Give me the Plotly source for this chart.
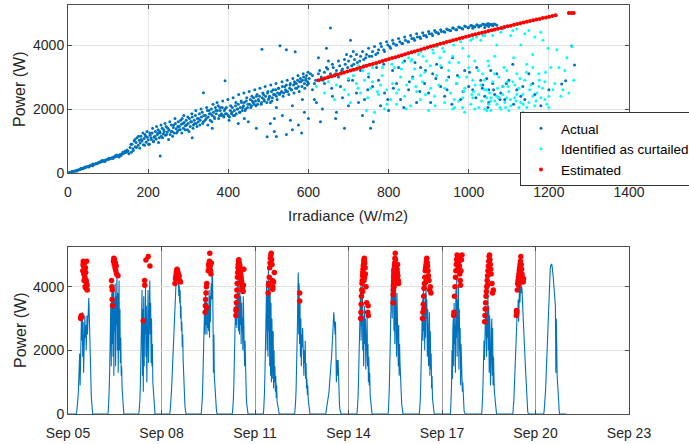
import plotly.graph_objects as go
import pandas as pd

# ---------------- top panel: power vs irradiance ----------------
actual_irr = [
    1, 3, 5, 7, 9, 11, 13, 15, 18, 20,
    23, 25, 28, 30, 33, 35, 38, 40, 43, 45,
    48, 50, 53, 55, 58, 60, 63, 65, 68, 70,
    73, 75, 78, 80, 83, 85, 88, 90, 93, 95,
    98, 100, 103, 105, 108, 110, 113, 115, 118, 120,
    123, 125, 128, 130, 133, 135, 138, 140, 143, 145,
    148, 150,
    10, 22, 32, 42, 52, 62, 72, 82, 92, 102,
    112, 122, 132, 142, 62, 85, 118, 127, 137, 147,
    155, 158, 160, 162, 165, 168, 170, 172, 175, 178,
    180, 182, 185, 188, 190, 192, 195, 198, 200, 203,
    205, 208, 210, 213, 215, 218, 220, 223, 225, 228,
    230, 233, 235, 238, 240, 243, 245, 248, 230, 252,
    255, 258, 260, 263, 265, 268, 270, 273, 275, 278,
    280, 283, 285, 288, 290, 293, 295, 298, 300, 303,
    305, 308, 310, 313, 315, 318, 320, 323, 325, 328,
    330, 333, 335, 338, 338, 343, 345, 348, 350, 353,
    355, 358, 360, 363, 365, 368, 370, 373, 375, 378,
    380, 383, 385, 388, 390, 393, 395, 392, 400, 403,
    405, 408, 410, 413, 415, 418, 420, 423, 425, 428,
    430, 433, 435, 438, 440, 443, 445, 448, 450, 453,
    455, 458, 460, 463, 465, 468, 470, 473, 475, 478,
    484, 483, 485, 488, 490, 493, 497, 498, 500, 503,
    505, 508, 510, 513, 515, 518, 520, 523, 525, 528,
    529, 533, 535, 538, 520, 543, 545, 548, 545, 553,
    555, 558, 560, 563, 565, 568, 570, 573, 575, 578,
    580, 583, 585, 588, 590, 593, 595, 598, 600, 567,
    152, 157, 163, 167, 171, 176, 179, 183, 187, 191,
    194, 197, 201, 204, 207, 211, 214, 217, 221, 224,
    226, 229, 232, 236, 239, 242, 246, 249, 251, 254,
    257, 261, 264, 267, 271, 274, 277, 281, 284, 287,
    289, 292, 296, 299, 302, 306, 309, 312, 316, 319,
    322, 326, 329, 332, 336, 339, 342, 346, 349, 352,
    356, 359, 362, 366, 369, 372, 376, 379, 382, 386,
    389, 392, 396, 399, 402, 406, 409, 412, 416, 419,
    422, 426, 429, 432, 436, 439, 442, 446, 449, 452,
    456, 459, 462, 466, 469, 472, 476, 479, 482, 486,
    489, 492, 496, 499, 502, 506, 509, 512, 516, 519,
    522, 526, 530, 534, 537, 541, 544, 547, 551, 554,
    557, 561, 564, 567, 571, 574, 577, 581, 584, 587,
    591, 594, 597, 599, 505, 515, 535, 555, 575, 590,
    470, 440, 425, 360, 310, 520, 560, 585, 600, 545,
    602, 610, 618, 625, 632, 640, 648, 655, 662, 670,
    678, 685, 692, 700, 708, 715, 722, 730, 738, 745,
    752, 760, 768, 775, 782, 790, 798, 805, 812, 820,
    828, 835, 842, 850, 858, 865, 872, 880, 888, 895,
    902, 910, 918, 925, 932, 940, 948, 955, 962, 970,
    978, 985, 992, 1000, 1008, 1015, 1022, 1030, 1038, 1045,
    1052, 1058, 1062, 1066, 1070, 1040, 1050, 1060, 1010, 1025,
    605, 615, 628, 636, 645, 652, 660, 668, 675, 683,
    690, 698, 706, 713, 720, 728, 735, 743, 750, 758,
    765, 773, 780, 788, 795, 803, 810, 818, 825, 833,
    840, 848, 855, 863, 870, 878, 885, 893, 900, 908,
    915, 923, 930, 938, 945, 953, 960, 968, 975, 983,
    990, 998, 1005, 1012, 1020, 1028, 1035, 1042, 1048, 1055,
    610, 620, 630, 640, 650, 655, 660, 670, 675, 680,
    690, 695, 700, 705, 710, 720, 730, 735, 740, 750,
    755, 760, 770, 780, 790, 800, 810, 820, 830, 840,
    850, 860, 870, 880, 890, 900, 910, 920, 930, 940,
    950, 960, 970, 980, 990, 1000, 1010, 1020, 1030, 1040,
    1050, 1060, 1070, 1080, 1090, 1100, 1110, 1120, 1130, 1140,
    1150, 1160, 1180, 1200, 1232, 1242, 1257, 1264, 1050, 1035,
    1065, 1045, 1055, 1075, 1085,
    615, 625, 635, 645, 658, 668, 685, 700, 712, 725,
    738, 748, 762, 775, 788, 798, 812, 825, 838, 852,
    866, 878, 892, 905, 918, 932, 946, 958, 972, 986,
    1002, 1018, 1034, 1048, 1062, 1078, 1094, 1112, 1135, 1165,
]
actual_pow = [
    3, 10, 18, 25, 32, 40, 48, 55, 66, 74,
    86, 95, 105, 118, 128, 140, 150, 160, 172, 185,
    195, 205, 215, 230, 240, 250, 262, 275, 282, 300,
    305, 320, 330, 345, 350, 365, 372, 390, 395, 410,
    420, 430, 440, 455, 460, 480, 485, 500, 505, 525,
    530, 550, 555, 575, 580, 600, 610, 630, 640, 660,
    670, 690,
    50, 60, 140, 190, 190, 280, 290, 370, 360, 460,
    450, 560, 540, 680, 230, 390, 540, 500, 650, 720,
    800, 650, 900, 760, 1000, 820, 950, 1100, 870, 1020,
    940, 1150, 1000, 880, 1080, 1200, 960, 1120, 1030, 900,
    1180, 1050, 1250, 980, 1120, 1300, 1060, 1200, 1350, 1100,
    1250, 1150, 1400, 1230, 1300, 1180, 1450, 1280, 530, 1350,
    1200, 1500, 1300, 1420, 1250, 1550, 1380, 1300, 1600, 1450,
    1350, 1520, 1700, 1400, 1580, 1480, 1650, 1350, 1550, 1700,
    1450, 1600, 1750, 1500, 1650, 1800, 1550, 1700, 1600, 1850,
    1650, 1750, 1900, 1600, 2510, 1800, 1700, 1950, 1750, 1850,
    1650, 2000, 1800, 1900, 1750, 2050, 1850, 1950, 2100, 1800,
    1950, 1850, 2050, 1800, 1950, 1850, 2050, 2885, 1800, 1750,
    1950, 1850, 2050, 1800, 1950, 2100, 1850, 2000, 2150, 1900,
    2050, 2200, 1950, 2100, 2200, 2000, 2250, 2050, 1600, 2150,
    2300, 2100, 2250, 2350, 2150, 2250, 2400, 2150, 2300, 2400,
    3870, 2200, 2350, 2450, 2250, 2400, 1135, 2500, 2300, 2400,
    2200, 2550, 2350, 2450, 1700, 2600, 2400, 2500, 2650, 2450,
    3980, 2550, 2700, 2500, 1140, 2600, 2750, 2550, 3850, 2650,
    2800, 2600, 1350, 2750, 2850, 2650, 2800, 2900, 2700, 2850,
    2950, 1250, 2900, 3000, 2800, 2900, 3050, 2850, 2800, 3790,
    600, 900, 700, 1050, 800, 1150, 780, 1050, 1250, 870,
    1150, 1300, 900, 1250, 1100, 1400, 1000, 1150, 1450, 1250,
    950, 1300, 1500, 1100, 1350, 1550, 1200, 1400, 1050, 1600,
    1300, 1150, 1500, 1700, 1250, 1450, 1350, 1650, 1250, 1550,
    1800, 1350, 1500, 1750, 1300, 1600, 1850, 1400, 1550, 1950,
    1450, 1700, 1500, 2000, 1550, 1800, 1650, 2050, 1500, 1950,
    1850, 1600, 2150, 1700, 1950, 2200, 1700, 2050, 1800, 2250,
    1750, 2000, 1850, 2300, 1650, 2100, 1900, 2350, 1800, 2200,
    2000, 2450, 1900, 2250, 2050, 2500, 1950, 2350, 2150, 2550,
    2050, 2400, 2200, 2600, 2100, 2450, 2250, 2650, 2150, 2500,
    2300, 2700, 2200, 2550, 2350, 2750, 2250, 2600, 2450, 2800,
    2300, 2650, 2500, 2850, 2400, 2700, 2550, 2900, 2450, 2750,
    2600, 2950, 2500, 2800, 2650, 3050, 2550, 2850, 2700, 3100,
    2650, 2950, 2750, 3150, 1550, 1300, 1800, 1650, 1500, 1900,
    1400, 1700, 1550, 1400, 1100, 2050, 2100, 2300, 1700, 1200,
    2950, 3050, 2900, 3100, 3000, 3150, 3250, 3100, 3300, 3200,
    3350, 3250, 3400, 3500, 3350, 3550, 3450, 3650, 3550, 3700,
    3650, 3800, 3700, 3850, 3950, 3800, 4000, 3900, 4050, 4000,
    4100, 4050, 4150, 4100, 4200, 4150, 4250, 4200, 4300, 4250,
    4350, 4300, 4400, 4350, 4420, 4400, 4480, 4450, 4520, 4480,
    4550, 4500, 4580, 4550, 4600, 4570, 4620, 4600, 4640, 4620,
    4650, 4630, 4660, 4650, 4620, 4550, 4580, 4600, 4520, 4560,
    3100, 2800, 3200, 2900, 3300, 3000, 3400, 3100, 3500, 3200,
    3550, 3300, 3650, 3400, 3700, 3500, 3800, 3600, 3900, 3650,
    3950, 3750, 4050, 3850, 4100, 3950, 4150, 4000, 4200, 4050,
    4250, 4100, 4300, 4200, 4350, 4250, 4380, 4300, 4420, 4350,
    4450, 4380, 4480, 4420, 4500, 4450, 4540, 4480, 4560, 4520,
    4590, 4540, 4610, 4580, 4630, 4600, 4660, 4630, 4670, 4640,
    2600, 2200, 1600, 2800, 3500, 4530, 2400, 1900, 3000, 2700,
    1400, 3700, 2100, 4150, 2900, 2500, 3200, 1800, 2300, 3000,
    1400, 2700, 3300, 2100, 2500, 1950, 3200, 2800, 2300, 3500,
    2600, 3000, 2200, 3300, 2800, 2500, 3100, 3400, 2700, 2400,
    3000, 3600, 2800, 2300, 3200, 2700, 2600, 3300, 2900, 2400,
    2200, 2800, 3100, 2500, 2300, 2900, 3400, 2600, 2400, 2300,
    3100, 2800, 2100, 2600, 2780, 2885, 3970, 3375, 2600, 2750,
    2450, 2950, 3200, 2350, 2700,
    2300, 3600, 2000, 3900, 2650, 1700, 2350, 2900, 3800, 2200,
    3350, 2600, 1600, 2900, 3400, 2300, 2650, 3300, 2050, 2850,
    3450, 2550, 3200, 2200, 2950, 3300, 2600, 2150, 3050, 2550,
    3150, 2350, 2650, 2050, 2600, 2300, 2800, 2150, 2700, 2450,
]

curtailed_irr = [
    620, 630, 640, 650, 660, 665, 670, 680, 690, 700,
    705, 710, 720, 725, 730, 740, 745, 750, 755, 760,
    765, 770, 775, 780, 785, 790, 795, 800, 805, 810,
    815, 820, 825, 830, 835, 840, 845, 850, 855, 860,
    865, 870, 875, 880, 885, 890, 895, 900, 905, 910,
    915, 920, 925, 930, 935, 940, 945, 950, 955, 960,
    965, 970, 975, 980, 985, 990, 995, 1000, 1005, 1010,
    1015, 1020, 1025, 1030, 1035, 1040, 1045, 1050, 1055, 1060,
    1065, 1070, 1075, 1080, 1085, 1090, 1095, 1100, 1105, 1110,
    1115, 1120, 1125, 1130, 1135, 1140, 1145, 1150, 1155, 1160,
    1170, 1175, 1180, 1190, 1200, 1205, 1210, 1220, 1230, 1240,
    1250, 1258, 1262, 960, 975, 990, 1010, 1025, 1040, 1055,
    1070, 1085, 1100, 1115, 1130, 1145, 1160, 1175, 1190, 1045,
    1065, 1095, 1125, 1012, 1052, 1078, 1098, 1118, 1010, 1040,
    1060, 1090, 1120, 1150, 1180, 1030, 1070, 950, 920, 880,
    700, 712, 724, 736, 748, 760, 772, 784, 796, 808,
    820, 832, 844, 856, 868, 880, 892, 904, 916, 928,
    940, 952, 964, 976, 988, 1000, 1008, 1016, 1024, 1032,
    1040, 1048, 1056, 1064, 1072, 1080, 1088, 1096, 1104, 1112,
    1120, 1128, 1136, 1144, 1152, 1160, 1168, 1176, 1184, 1192,
    1200, 1215, 1225, 1235, 1245, 1198, 1185, 1165, 1140, 1110,
    1085, 1060, 1035, 1005, 985, 962, 938, 912, 886, 858,
    985, 1015, 1045, 1075, 1105, 1135, 1165, 1195, 1050, 1092,
]
curtailed_pow = [
    2700, 2900, 2500, 2850, 3000, 2300, 2750, 3100, 2600, 2950,
    2200, 3250, 2800, 3350, 2500, 2900, 1950, 3100, 2650, 2850,
    1900, 3400, 2450, 2750, 3300, 2000, 2600, 3550, 2300, 2800,
    3300, 2150, 2600, 3000, 3450, 2400, 2750, 3600, 2100, 2950,
    3250, 2550, 3700, 2300, 2850, 3150, 3500, 1950, 2650, 3850,
    2400, 3050, 2750, 3350, 3900, 2200, 2900, 3200, 2500, 3650,
    2050, 2800, 3450, 4100, 2350, 2650, 3000, 3300, 2150, 2900,
    3500, 4250, 2450, 2750, 3100, 2000, 2600, 3350, 2250, 2850,
    3650, 2400, 3000, 4400, 2700, 2200, 3200, 2550, 4300, 2850,
    2350, 3100, 2650, 4000, 2450, 2900, 3400, 2200, 2750, 3700,
    2500, 3100, 2350, 2850, 2050, 3300, 2600, 3850, 2400, 3200,
    2500, 3950, 2900, 2000, 2250, 1900, 2350, 2050, 2600, 1950,
    2150, 2450, 1950, 2750, 2200, 2050, 2400, 2700, 2300, 2350,
    2250, 2350, 2050, 2550, 2500, 2050, 2700, 2250, 4200, 4300,
    4450, 4550, 4500, 4450, 4400, 4150, 4000, 4100, 3950, 3800,
    2450, 3050, 2650, 3200, 2350, 3300, 2550, 3050, 2150, 3400,
    2500, 3250, 2000, 3500, 2700, 3050, 2450, 3350, 2100, 3600,
    2650, 3450, 2300, 3000, 2550, 3650, 2450, 2750, 3200, 2250,
    2900, 3500, 2350, 3100, 2650, 2000, 3300, 2850, 2300, 3600,
    2450, 2950, 2150, 3150, 2600, 3300, 2250, 2900, 2650, 3150,
    2400, 2800, 3300, 2600, 3600, 3900, 4150, 4250, 4350, 4450,
    4500, 4300, 4300, 4150, 3900, 4000, 3800, 3750, 3650, 3550,
    2050, 2000, 1950, 2350, 2100, 1900, 2100, 2150, 2150, 2050,
]

estimated_irr = [
    625, 633, 641, 649, 657, 665, 673, 681, 689, 697,
    705, 713, 721, 729, 737, 745, 753, 761, 769, 777,
    785, 793, 801, 809, 817, 825, 833, 841, 849, 857,
    865, 873, 881, 889, 897, 905, 913, 921, 929, 937,
    945, 953, 961, 969, 977, 985, 993, 1001, 1009, 1017,
    1025, 1033, 1041, 1049, 1057, 1065, 1073, 1081, 1089, 1097,
    1105, 1113, 1121, 1129, 1137, 1145, 1153, 1161, 1169, 1177,
    1185, 1193, 1201, 1209, 1217, 1250, 1256, 1262,
]
estimated_pow = [
    2900, 2930, 2960, 2990, 3020, 3050, 3080, 3110, 3140, 3170,
    3200, 3230, 3260, 3290, 3320, 3350, 3380, 3410, 3440, 3470,
    3500, 3530, 3560, 3590, 3620, 3650, 3680, 3710, 3740, 3770,
    3800, 3830, 3860, 3890, 3920, 3950, 3980, 4010, 4040, 4065,
    4095, 4120, 4150, 4175, 4205, 4230, 4255, 4280, 4310, 4335,
    4360, 4385, 4410, 4435, 4460, 4485, 4510, 4535, 4560, 4585,
    4605, 4630, 4655, 4680, 4700, 4725, 4750, 4770, 4795, 4815,
    4840, 4860, 4885, 4905, 4930, 5000, 5000, 5000,
]

irr_ticks = [0, 200, 400, 600, 800, 1000, 1200, 1400]
power_ticks = [0, 2000, 4000]

# ---------------- bottom panel: power time series ----------------
first_day = "2019-09-05"
n_days = 16
day_hours = [6.33, 6.67, 7.0, 7.33, 7.67, 8.0, 8.33, 8.67, 9.0, 9.33, 9.67, 10.0, 10.33,
             10.67, 11.0, 11.33, 11.67, 12.0, 12.33, 12.67, 13.0, 13.33, 13.67, 14.0, 14.33, 14.67,
             15.0, 15.33, 15.67, 16.0, 16.33, 16.67, 17.0, 17.33, 17.67, 18.0, 18.33, 18.67, 19.0]
day_power = [
    [0, 50, 150, 300, 500, 700, 1000, 1400, 1900, 900, 2600, 1500, 3000,
     2300, 3200, 1800, 2900, 1300, 2700, 2100, 3100, 2400, 2800, 2000, 2600, 3100,
     2500, 3300, 2900, 3650, 3200, 2800, 2200, 1600, 1000, 500, 200, 50, 0],
    [0, 0, 100, 300, 700, 1200, 1800, 2600, 3500, 1500, 3800, 2200, 4000,
     1800, 3900, 1200, 3600, 2600, 4100, 1500, 3700, 2800, 4400, 2000, 3800, 1300,
     3000, 4200, 2000, 3300, 1600, 2400, 1200, 1500, 800, 500, 250, 80, 0],
    [0, 50, 150, 400, 800, 1300, 2000, 3000, 3900, 1200, 3300, 700, 3700,
     1500, 3000, 2500, 4000, 1800, 3400, 1000, 2800, 2200, 3900, 1600, 3500, 2400,
     4200, 2500, 3500, 1600, 3000, 1500, 2200, 1000, 700, 400, 150, 50, 0],
    [0, 100, 250, 450, 700, 1000, 1350, 1750, 2200, 2650, 3000, 3350, 3650,
     3900, 4100, 4250, 4350, 4400, 4380, 4300, 4150, 3700, 4050, 3500, 3900, 3000,
     3400, 2600, 2900, 2100, 2500, 1700, 1200, 850, 550, 300, 150, 50, 0],
    [0, 50, 200, 450, 800, 1300, 1900, 2600, 3300, 3600, 2500, 3900, 2800,
     3600, 2500, 3500, 2700, 3300, 2600, 3900, 2400, 3700, 2900, 3800, 4100, 3600,
     4600, 4300, 3000, 1300, 2500, 1200, 900, 700, 450, 250, 100, 30, 0],
    [0, 50, 200, 450, 850, 1300, 1900, 2600, 3400, 2800, 3600, 2700, 4000,
     3200, 4700, 2600, 3800, 2500, 4200, 2800, 3700, 2200, 3500, 2600, 3000, 2000,
     3700, 2200, 3000, 1500, 2300, 1000, 700, 500, 300, 150, 50, 0, 0],
    [0, 100, 300, 700, 1300, 2000, 2800, 3600, 4200, 2000, 3900, 1800, 4600,
     2600, 4100, 1500, 3800, 1200, 3500, 1000, 3000, 2200, 1100, 2600, 800, 2000,
     1000, 1500, 700, 1200, 500, 900, 400, 300, 150, 80, 30, 0, 0],
    [0, 50, 200, 450, 800, 1300, 2000, 2800, 3800, 4450, 2500, 4100, 2200,
     3500, 1800, 3000, 1500, 2500, 2100, 2700, 1700, 2400, 1200, 2000, 1600, 2300,
     1100, 1600, 800, 1100, 600, 900, 450, 300, 150, 50, 0, 0, 0],
    [0, 50, 150, 250, 300, 350, 400, 500, 700, 900, 1200, 1400, 1500,
     1650, 1800, 2000, 2400, 2700, 2900, 3200, 2800, 3000, 2500, 2900, 2200, 1000,
     1500, 1700, 1200, 1700, 900, 600, 350, 150, 50, 0, 0, 0, 0],
    [0, 50, 200, 500, 1000, 1600, 2200, 2800, 3300, 4000, 2300, 3500, 2900,
     4200, 2000, 3100, 1500, 2700, 3400, 2200, 3000, 1400, 2600, 1800, 3100, 1500,
     2200, 1000, 1800, 900, 1300, 600, 400, 250, 100, 50, 0, 0, 0],
    [0, 50, 250, 700, 1300, 2000, 2800, 3500, 4000, 4600, 3000, 4700, 3500,
     4200, 2600, 3900, 2200, 4500, 3000, 3500, 1800, 3800, 2800, 3200, 1500, 2800,
     1200, 2200, 1600, 900, 1300, 600, 300, 150, 50, 0, 0, 0, 0],
    [0, 50, 200, 500, 1000, 1600, 2300, 2900, 3600, 2300, 4000, 2600, 3400,
     2000, 3800, 2400, 4100, 3000, 3600, 1800, 3300, 2600, 1500, 2400, 3200, 1200,
     2600, 1400, 1900, 800, 1200, 500, 300, 150, 50, 0, 0, 0, 0],
    [0, 100, 400, 900, 2000, 1100, 2600, 3000, 1500, 3500, 2200, 2800, 1300,
     3900, 2400, 4300, 1800, 3600, 2600, 4000, 1400, 3300, 2000, 2700, 900, 2200,
     1300, 1800, 700, 1000, 400, 250, 100, 50, 0, 0, 0, 0, 0],
    [0, 50, 250, 600, 1100, 1700, 2300, 1700, 2900, 2100, 3400, 2600, 1800,
     3200, 2400, 3800, 2000, 3400, 1300, 3100, 2700, 900, 2500, 1600, 3000, 1200,
     2700, 900, 1800, 1200, 700, 500, 250, 100, 30, 0, 0, 0, 0],
    [0, 50, 200, 450, 800, 1200, 1600, 2000, 2400, 2800, 3100, 3300, 3100,
     3600, 2900, 3800, 4000, 3500, 4200, 4300, 3800, 4000, 3900, 3500, 3100, 3300,
     2600, 2300, 2000, 1700, 1400, 1000, 700, 400, 200, 80, 30, 0, 0],
    [0, 100, 250, 450, 700, 1000, 1350, 1750, 2200, 2650, 3100, 3500, 3850,
     4150, 4400, 4550, 4650, 4700, 4720, 4680, 4600, 4450, 4300, 4100, 3900, 3700,
     3500, 3400, 1300, 3000, 2200, 1200, 900, 600, 350, 150, 50, 0, 0],
]
est_hours = [
    [9.8, 10.0, 10.3, 10.5, 11.4, 11.6, 11.8, 12.0, 12.2, 12.4, 12.6, 12.8, 13.0, 13.2, 13.4, 13.6, 13.8, 14.0, 14.2, 14.4, 14.6, 14.8],
    [9.5, 9.8, 10.0, 10.3, 10.1, 11.0, 11.3, 11.6, 11.9, 12.2, 12.5, 12.8, 13.1, 13.4, 14.5],
    [9.95, 11.0, 11.1, 12.0, 13.8, 15.1],
    [10.4, 10.8, 11.1, 11.4, 11.7, 12.0, 12.3, 12.6, 12.9, 13.2, 13.5, 14.0, 14.6],
    [9.6, 9.8, 10.0, 10.3, 10.6, 10.9, 11.1, 12.0, 12.3, 12.6, 12.9, 13.2, 13.5, 13.8, 14.1, 14.4],
    [9.3, 9.4, 9.5, 9.7, 9.9, 10.1, 10.3, 10.5, 10.7, 10.9, 11.1, 11.3, 11.5, 11.8, 12.1, 12.2, 12.4, 12.7, 13.0, 13.3, 13.6, 13.9, 14.2, 14.5, 14.8, 15.1, 15.4],
    [10.1, 10.4, 10.7, 11.0, 11.3, 11.6, 11.9, 12.2, 12.5, 12.8, 13.1, 13.4, 13.8, 14.3, 14.9, 13.6],
    [10.4, 10.4],
    [],
    [9.4, 9.6, 9.8, 10.0, 10.2, 10.4, 10.6, 10.8, 11.0, 11.2, 11.4, 11.6, 11.8, 12.0, 12.2, 12.5, 12.8, 13.0, 13.5, 14.0, 14.8, 15.1, 15.3, 12.4, 11.9, 10.9],
    [10.3, 10.4, 10.5, 10.6, 10.8, 11.0, 11.2, 11.4, 11.6, 11.8, 12.0, 12.2, 12.4, 12.6, 12.8, 13.0, 13.2, 13.4, 13.6, 13.8, 14.0, 14.3, 14.6, 11.1, 12.5],
    [9.0, 9.3, 9.6, 9.9, 10.2, 10.5, 10.8, 11.1, 11.4, 11.7, 12.0, 12.3, 12.6, 12.9, 13.2, 13.6, 14.0, 14.5, 15.0, 15.5, 11.5, 10.0],
    [9.0, 9.2, 9.6, 10.0, 10.4, 10.7, 11.0, 11.3, 11.6, 11.9, 12.2, 12.5, 12.8, 13.1, 13.4, 13.7, 14.0, 14.3, 14.6, 15.0, 15.4],
    [8.9, 9.1, 9.3, 9.6, 9.9, 10.2, 10.5, 10.8, 11.1, 11.4, 11.7, 12.0, 12.3, 12.6, 12.9, 13.2, 13.5, 13.8, 14.5, 15.0, 15.5, 10.0, 11.0],
    [9.2, 9.4, 9.6, 10.0, 10.3, 10.6, 10.9, 11.2, 11.5, 11.8, 12.1, 12.4, 12.7, 13.0, 13.3, 13.6, 13.9, 14.2, 14.5, 14.8, 11.0, 12.0, 13.0],
    [],
]
est_power = [
    [3000, 3050, 3100, 3050, 4500, 4700, 4800, 4650, 4400, 4200, 4750, 4550, 4300, 4000, 4600, 4450, 3950, 4200, 4100, 4800, 4050, 3900],
    [4200, 4000, 3600, 3400, 3900, 4800, 4900, 4700, 4850, 4600, 4750, 4500, 4650, 4400, 4350],
    [2930, 4200, 4050, 4840, 4950, 4650],
    [4100, 4250, 4350, 4450, 4500, 4550, 4500, 4450, 4400, 4300, 4350, 4200, 4150],
    [3200, 3400, 3600, 3800, 4000, 4100, 3350, 4500, 4700, 4600, 4800, 5050, 4650, 4500, 4400, 4750],
    [3100, 3250, 3300, 3500, 3700, 3900, 4100, 4300, 4450, 4600, 4700, 4800, 4850, 4750, 4700, 4650, 4600, 4500, 4400, 4300, 4200, 4100, 4000, 3900, 3850, 4050, 4550],
    [3800, 4050, 4100, 4300, 4600, 4750, 4900, 5000, 5050, 4850, 4700, 4200, 4000, 4150, 4450, 3920],
    [3800, 3550],
    [],
    [3000, 3200, 3450, 3700, 3900, 4100, 4200, 4350, 4450, 4550, 4650, 4700, 4800, 4850, 4900, 4750, 4600, 4400, 4000, 3500, 3200, 3400, 3100, 4300, 4200, 3850],
    [3500, 3750, 3900, 4050, 4200, 4350, 4500, 4650, 4750, 4900, 5050, 4850, 4700, 4600, 4500, 4400, 4300, 4550, 4450, 4700, 4350, 4200, 4100, 4000, 4150],
    [3000, 3200, 3450, 3700, 3950, 4100, 4300, 4500, 4600, 4700, 4800, 4900, 4750, 4650, 4500, 4350, 4200, 3900, 4000, 3800, 4150, 3300],
    [3100, 3200, 3700, 4000, 4300, 4500, 4700, 4850, 5000, 4900, 4750, 4600, 4950, 4800, 4650, 4400, 4200, 4050, 4500, 4850, 5000],
    [2900, 3100, 3300, 3500, 3700, 3850, 4000, 4200, 4350, 4500, 4650, 4800, 4950, 5000, 4850, 4700, 4550, 4400, 4100, 3800, 3900, 3300, 4050],
    [3100, 3250, 3200, 3900, 4100, 4200, 4300, 4400, 4500, 4600, 4700, 4800, 4950, 4700, 4550, 4400, 4300, 4200, 4150, 4250, 4050, 4350, 4250],
    [],
]
date_ticks = ["2019-09-05", "2019-09-08", "2019-09-11", "2019-09-14",
              "2019-09-17", "2019-09-20", "2019-09-23"]

# ---------------- build series ----------------
days = pd.date_range(first_day, periods=n_days, freq="D")
ts_time, ts_power = [], []
for d, vals in zip(days, day_power):
    ts_time.append(d)
    ts_power.append(0)
    for h, v in zip(day_hours, vals):
        ts_time.append(d + pd.Timedelta(hours=h))
        ts_power.append(v)
ts_time.append(days[-1] + pd.Timedelta(days=1))
ts_power.append(0)

est_time, est_vals = [], []
for d, hs, vs in zip(days, est_hours, est_power):
    for h, v in zip(hs, vs):
        est_time.append(d + pd.Timedelta(hours=h))
        est_vals.append(v)

# ---------------- figure ----------------
FONT = "Liberation Sans, Arial, sans-serif"
TXT = "#262626"
BLUE = "#0072BD"

fig = go.Figure()
fig.add_trace(go.Scatter(x=actual_irr, y=actual_pow, mode="markers", name="Actual",
                         marker=dict(color=BLUE, size=3), xaxis="x", yaxis="y"))
fig.add_trace(go.Scatter(x=curtailed_irr, y=curtailed_pow, mode="markers",
                         name="Identified as curtailed",
                         marker=dict(color="#00FFFF", size=3), xaxis="x", yaxis="y"))
fig.add_trace(go.Scatter(x=estimated_irr, y=estimated_pow, mode="markers", name="Estimated",
                         marker=dict(color="#FF0000", size=4), xaxis="x", yaxis="y"))
fig.add_trace(go.Scatter(x=ts_time, y=ts_power, mode="lines", showlegend=False,
                         line=dict(color=BLUE, width=1.1), xaxis="x2", yaxis="y2"))
fig.add_trace(go.Scatter(x=est_time, y=est_vals, mode="markers", showlegend=False,
                         marker=dict(color="#FF0000", size=5.5), xaxis="x2", yaxis="y2"))

W, H = 689, 444
def px_x(v):
    return v / W
def px_y(v):
    return (H - v) / H

axis_common = dict(showline=True, mirror="ticks", linecolor="#4d4d4d", linewidth=1,
                   ticks="inside", ticklen=4, tickcolor="#4d4d4d", zeroline=False,
                   tickfont=dict(family=FONT, size=14, color=TXT))

fig.update_layout(
    width=W, height=H,
    margin=dict(l=0, r=0, t=0, b=0, autoexpand=False),
    paper_bgcolor="white", plot_bgcolor="white",
    font=dict(family=FONT, color=TXT),
    xaxis=dict(domain=[px_x(68), px_x(629)], anchor="y", range=[0, 1400],
               tickvals=irr_ticks, showgrid=True, gridcolor="#e3e3e3",
               ticklabelstandoff=6, **axis_common),
    yaxis=dict(domain=[px_y(173), px_y(5)], anchor="x", range=[0, 5250],
               tickvals=power_ticks, showgrid=True, gridcolor="#e3e3e3",
               **axis_common),
    xaxis2=dict(domain=[px_x(68), px_x(629)], anchor="y2", type="date",
                range=[date_ticks[0], date_ticks[-1]], tickvals=date_ticks,
                tickformat="%b %d", showgrid=True, gridcolor="#9a9a9a",
                ticklabelstandoff=6, **axis_common),
    yaxis2=dict(domain=[px_y(414), px_y(247)], anchor="x2", range=[0, 5250],
                tickvals=power_ticks, showgrid=True, gridcolor="#e3e3e3",
                **axis_common),
    legend=dict(x=px_x(520), y=px_y(112), xanchor="left", yanchor="top",
                bgcolor="white", bordercolor="#333333", borderwidth=1,
                font=dict(family=FONT, size=13.5, color="#000000"),
                itemsizing="trace", tracegroupgap=0),
    annotations=[
        dict(text="Irradiance (W/m2)", x=px_x(348), y=px_y(215), xref="paper", yref="paper",
             showarrow=False, xanchor="center", yanchor="middle",
             font=dict(family=FONT, size=15, color=TXT)),
        dict(text="Power (W)", x=px_x(20), y=px_y(89), xref="paper", yref="paper",
             showarrow=False, xanchor="center", yanchor="middle", textangle=-90,
             font=dict(family=FONT, size=16, color=TXT)),
        dict(text="Power (W)", x=px_x(20), y=px_y(330), xref="paper", yref="paper",
             showarrow=False, xanchor="center", yanchor="middle", textangle=-90,
             font=dict(family=FONT, size=16, color=TXT)),
    ],
)

fig.write_html("out.html", config={"displayModeBar": False},
               post_script="document.body.style.margin='0px';")
